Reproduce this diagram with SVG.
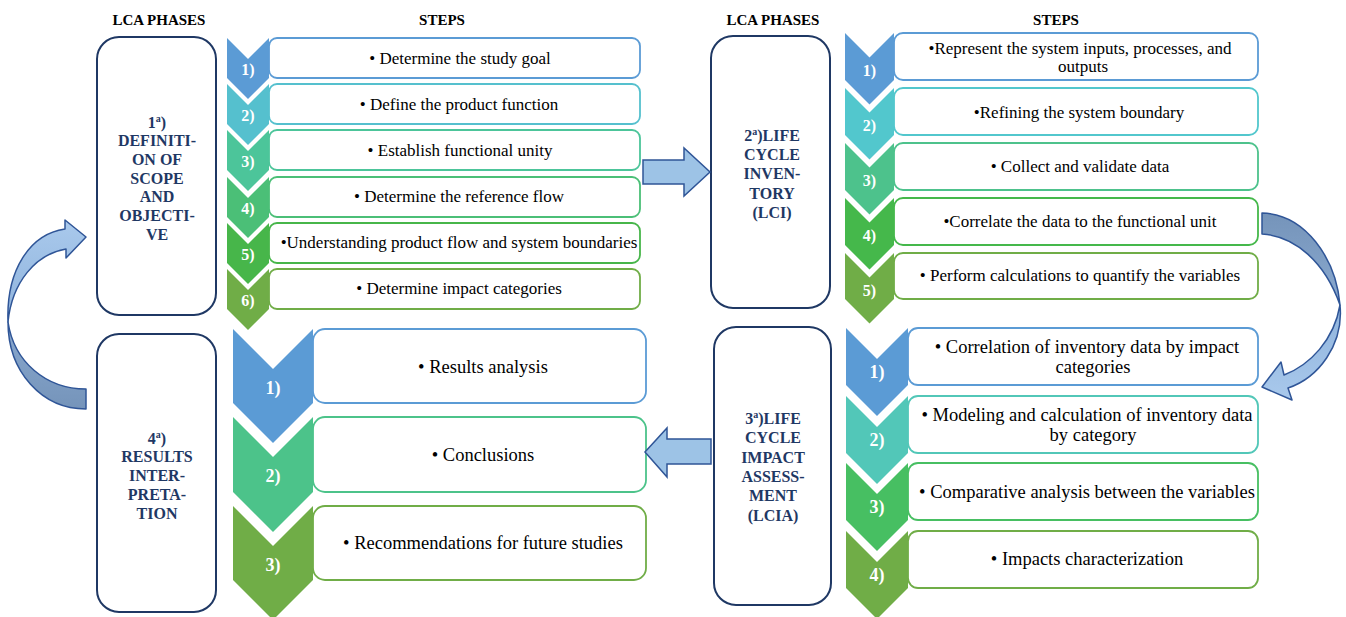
<svg xmlns="http://www.w3.org/2000/svg" width="1346" height="617" viewBox="0 0 1346 617">
  <defs>
    <style>
      .hdr { font-family: "Liberation Serif", "Times New Roman", serif; font-weight: bold; font-size: 15px; fill: #000; text-anchor: middle; }
      .phase rect { fill: #fff; stroke: #1f3864; stroke-width: 2; }
      .phase text { font-family: "Liberation Serif", "Times New Roman", serif; font-weight: bold; font-size: 16px; fill: #1f3864; text-anchor: middle; }
      .sup { font-size: 10px; }
      .step rect { fill: #fff; stroke-width: 1.8; }
      .num { font-family: "Liberation Serif", "Times New Roman", serif; font-weight: bold; font-size: 16px; fill: #fff; text-anchor: middle; }
      .num.big { font-size: 18px; }
      .t15 { font-family: "Liberation Serif", "Times New Roman", serif; font-size: 17px; fill: #000; text-anchor: middle; }
      .t17 { font-family: "Liberation Serif", "Times New Roman", serif; font-size: 18.5px; fill: #000; text-anchor: middle; }
      .block { fill: #9dc3e6; stroke: #2f5597; stroke-width: 1.5; stroke-linejoin: miter; }
      .curve { stroke: #2f5597; stroke-width: 1.5; stroke-linejoin: round; }
    </style>
    <linearGradient id="lightBand" x1="0" y1="0" x2="0" y2="1">
      <stop offset="0" stop-color="#a9c9ec"/>
      <stop offset="1" stop-color="#8fb3dc"/>
    </linearGradient>
    <linearGradient id="darkBandL" x1="0" y1="0" x2="0" y2="1">
      <stop offset="0" stop-color="#8aa9cf"/>
      <stop offset="1" stop-color="#7594ba"/>
    </linearGradient>
    <linearGradient id="darkBandR" x1="0" y1="0" x2="0" y2="1">
      <stop offset="0" stop-color="#7594ba"/>
      <stop offset="1" stop-color="#8aa9cf"/>
    </linearGradient>
    <linearGradient id="lightBandR" x1="0" y1="0" x2="0" y2="1">
      <stop offset="0" stop-color="#8fb3dc"/>
      <stop offset="1" stop-color="#a9c9ec"/>
    </linearGradient>
  </defs>

  <rect width="1346" height="617" fill="#fff"/>

  <!-- column headers -->
  <g id="headers">
    <text class="hdr" x="159" y="25">LCA PHASES</text>
    <text class="hdr" x="442" y="25">STEPS</text>
    <text class="hdr" x="773" y="25">LCA PHASES</text>
    <text class="hdr" x="1056" y="25">STEPS</text>
  </g>

  <!-- phase boxes -->
  <g id="phase1" class="phase">
    <rect x="97" y="37" width="119" height="278" rx="22"/>
    <text x="157" y="128">1<tspan class="sup" dy="-6">a</tspan><tspan dy="6">)</tspan></text>
    <text x="157" y="146">DEFINITI-</text>
    <text x="157" y="165">ON OF</text>
    <text x="157" y="184">SCOPE</text>
    <text x="157" y="202">AND</text>
    <text x="157" y="221">OBJECTI-</text>
    <text x="157" y="240">VE</text>
  </g>
  <g id="phase2" class="phase">
    <rect x="711" y="36" width="119" height="272" rx="22"/>
    <text x="772" y="141">2<tspan class="sup" dy="-6">a</tspan><tspan dy="6">)LIFE</tspan></text>
    <text x="772" y="160">CYCLE</text>
    <text x="772" y="179">INVEN-</text>
    <text x="772" y="199">TORY</text>
    <text x="772" y="218">(LCI)</text>
  </g>
  <g id="phase3" class="phase">
    <rect x="714" y="327" width="117" height="278" rx="22"/>
    <text x="773" y="424">3<tspan class="sup" dy="-6">a</tspan><tspan dy="6">)LIFE</tspan></text>
    <text x="773" y="443">CYCLE</text>
    <text x="773" y="463">IMPACT</text>
    <text x="773" y="482">ASSESS-</text>
    <text x="773" y="501">MENT</text>
    <text x="773" y="521">(LCIA)</text>
  </g>
  <g id="phase4" class="phase">
    <rect x="97" y="334" width="119" height="278" rx="22"/>
    <text x="157" y="444">4<tspan class="sup" dy="-6">a</tspan><tspan dy="6">)</tspan></text>
    <text x="157" y="462">RESULTS</text>
    <text x="157" y="481">INTER-</text>
    <text x="157" y="500">PRETA-</text>
    <text x="157" y="519">TION</text>
  </g>

  <!-- phase 1 steps: chevron width 42, pitch 46 -->
  <g id="steps1">
    <g class="step" id="s1-1">
      <rect x="269" y="38" width="371" height="40" rx="8" stroke="#5b9bd5"/>
      <path d="M227,38 L248,59 L269,38 L269,78 L248,99 L227,78 Z" fill="#5b9bd5"/>
      <text class="num" x="248" y="75">1)</text>
      <text class="t15" x="460" y="64">• Determine the study goal</text>
    </g>
    <g class="step" id="s1-2">
      <rect x="269" y="84" width="371" height="40" rx="8" stroke="#55c0ce"/>
      <path d="M227,84 L248,105 L269,84 L269,124 L248,145 L227,124 Z" fill="#55c0ce"/>
      <text class="num" x="248" y="121">2)</text>
      <text class="t15" x="459" y="110">• Define the product function</text>
    </g>
    <g class="step" id="s1-3">
      <rect x="269" y="130" width="371" height="40" rx="8" stroke="#4cc59a"/>
      <path d="M227,130 L248,151 L269,130 L269,170 L248,191 L227,170 Z" fill="#4cc59a"/>
      <text class="num" x="248" y="167">3)</text>
      <text class="t15" x="460" y="156">• Establish functional unity</text>
    </g>
    <g class="step" id="s1-4">
      <rect x="269" y="177" width="371" height="40" rx="8" stroke="#4bbf77"/>
      <path d="M227,177 L248,198 L269,177 L269,217 L248,238 L227,217 Z" fill="#4bbf77"/>
      <text class="num" x="248" y="214">4)</text>
      <text class="t15" x="459" y="202">• Determine the reference flow</text>
    </g>
    <g class="step" id="s1-5">
      <rect x="269" y="223" width="371" height="40" rx="8" stroke="#47b64a"/>
      <path d="M227,223 L248,244 L269,223 L269,263 L248,284 L227,263 Z" fill="#47b64a"/>
      <text class="num" x="248" y="260">5)</text>
      <text class="t15" x="459" y="248">•Understanding product flow and system boundaries</text>
    </g>
    <g class="step" id="s1-6">
      <rect x="269" y="269" width="371" height="40" rx="8" stroke="#70ad47"/>
      <path d="M227,269 L248,290 L269,269 L269,309 L248,330 L227,309 Z" fill="#70ad47"/>
      <text class="num" x="248" y="306">6)</text>
      <text class="t15" x="459" y="294">• Determine impact categories</text>
    </g>
  </g>

  <!-- phase 2 steps: chevron width 49, pitch 55 -->
  <g id="steps2">
    <g class="step" id="s2-1">
      <rect x="894" y="33" width="364" height="47" rx="9" stroke="#5b9bd5"/>
      <path d="M845,33 L869.5,57.5 L894,33 L894,80 L869.5,104.5 L845,80 Z" fill="#5b9bd5"/>
      <text class="num" x="869.5" y="76">1)</text>
      <text class="t15" x="1080" y="54">•Represent the system inputs, processes, and</text>
      <text class="t15" x="1083" y="72">outputs</text>
    </g>
    <g class="step" id="s2-2">
      <rect x="894" y="88" width="364" height="47" rx="9" stroke="#52c7cd"/>
      <path d="M845,88 L869.5,112.5 L894,88 L894,135 L869.5,159.5 L845,135 Z" fill="#52c7cd"/>
      <text class="num" x="869.5" y="131">2)</text>
      <text class="t15" x="1079" y="118">•Refining the system boundary</text>
    </g>
    <g class="step" id="s2-3">
      <rect x="894" y="143" width="364" height="47" rx="9" stroke="#4dc28c"/>
      <path d="M845,143 L869.5,167.5 L894,143 L894,190 L869.5,214.5 L845,190 Z" fill="#4dc28c"/>
      <text class="num" x="869.5" y="186">3)</text>
      <text class="t15" x="1080" y="172">• Collect and validate data</text>
    </g>
    <g class="step" id="s2-4">
      <rect x="894" y="198" width="364" height="47" rx="9" stroke="#45b84b"/>
      <path d="M845,198 L869.5,222.5 L894,198 L894,245 L869.5,269.5 L845,245 Z" fill="#45b84b"/>
      <text class="num" x="869.5" y="241">4)</text>
      <text class="t15" x="1080" y="227">•Correlate the data to the functional unit</text>
    </g>
    <g class="step" id="s2-5">
      <rect x="894" y="253" width="364" height="46" rx="9" stroke="#70ad47"/>
      <path d="M845,253 L869.5,277.5 L894,253 L894,299 L869.5,323.5 L845,299 Z" fill="#70ad47"/>
      <text class="num" x="869.5" y="296">5)</text>
      <text class="t15" x="1080" y="281">• Perform calculations to quantify the variables</text>
    </g>
  </g>

  <!-- phase 3 steps: chevron width 62, pitch 67.7 -->
  <g id="steps3">
    <g class="step" id="s3-1">
      <rect x="908" y="328" width="350" height="57" rx="10" stroke="#5b9bd5"/>
      <path d="M846,328 L877,359 L908,328 L908,385 L877,416 L846,385 Z" fill="#5b9bd5"/>
      <text class="num big" x="877" y="378">1)</text>
      <text class="t17" x="1087" y="353">• Correlation of inventory data by impact</text>
      <text class="t17" x="1093" y="373">categories</text>
    </g>
    <g class="step" id="s3-2">
      <rect x="908" y="396" width="350" height="57" rx="10" stroke="#52c7b8"/>
      <path d="M846,396 L877,427 L908,396 L908,453 L877,484 L846,453 Z" fill="#52c7b8"/>
      <text class="num big" x="877" y="446">2)</text>
      <text class="t17" x="1087" y="421">• Modeling and calculation of inventory data</text>
      <text class="t17" x="1093" y="441">by category</text>
    </g>
    <g class="step" id="s3-3">
      <rect x="908" y="463" width="350" height="57" rx="10" stroke="#47bf62"/>
      <path d="M846,463 L877,494 L908,463 L908,520 L877,551 L846,520 Z" fill="#47bf62"/>
      <text class="num big" x="877" y="513">3)</text>
      <text class="t17" x="1087" y="498">• Comparative analysis between the variables</text>
    </g>
    <g class="step" id="s3-4">
      <rect x="908" y="531" width="350" height="57" rx="10" stroke="#70ad47"/>
      <path d="M846,531 L877,562 L908,531 L908,588 L877,619 L846,588 Z" fill="#70ad47"/>
      <text class="num big" x="877" y="581">4)</text>
      <text class="t17" x="1087" y="565">• Impacts characterization</text>
    </g>
  </g>

  <!-- phase 4 steps: chevron width 80, pitch 88.5 -->
  <g id="steps4">
    <g class="step" id="s4-1">
      <rect x="313" y="329" width="333" height="74" rx="12" stroke="#5b9bd5"/>
      <path d="M233,329 L273,369 L313,329 L313,403 L273,443 L233,403 Z" fill="#5b9bd5"/>
      <text class="num big" x="273" y="394">1)</text>
      <text class="t17" x="483" y="373">• Results analysis</text>
    </g>
    <g class="step" id="s4-2">
      <rect x="313" y="417" width="333" height="75" rx="12" stroke="#4cc38a"/>
      <path d="M233,417 L273,457 L313,417 L313,492 L273,532 L233,492 Z" fill="#4cc38a"/>
      <text class="num big" x="273" y="482">2)</text>
      <text class="t17" x="483" y="461">• Conclusions</text>
    </g>
    <g class="step" id="s4-3">
      <rect x="313" y="506" width="333" height="74" rx="12" stroke="#70ad47"/>
      <path d="M233,506 L273,546 L313,506 L313,580 L273,620 L233,580 Z" fill="#70ad47"/>
      <text class="num big" x="273" y="571">3)</text>
      <text class="t17" x="483" y="549">• Recommendations for future studies</text>
    </g>
  </g>

  <!-- connectors between phases -->
  <g id="connectors">
    <!-- phase 1 to phase 2 -->
    <path class="block" d="M643,160 L684,160 L684,148 L710,172 L684,196 L684,184 L643,184 Z"/>
    <!-- phase 3 to phase 4 -->
    <path class="block" d="M711,439 L667,439 L667,428 L645,452 L667,477 L667,464 L711,464 Z"/>
    <!-- phase 2 to phase 3: curved arrow on the right -->
    <path class="curve" fill="url(#darkBandR)" d="M1262,213 L1262,234 C1295,236 1325,262 1340,305 C1336,258 1305,214 1262,213 Z"/>
    <path class="curve" fill="url(#lightBandR)" d="M1340,305 C1344,345 1318,378 1288,388 L1292,400 L1262,387 L1281,362 L1284,375 C1310,365 1334,340 1340,305 Z"/>
    <!-- phase 4 to phase 1: curved arrow on the left -->
    <path class="curve" fill="url(#darkBandL)" d="M86,389 L86,409 C42,409 8,372 8,322 C14,362 46,389 86,389 Z"/>
    <path class="curve" fill="url(#lightBand)" d="M8,322 C6,270 30,234 65,229 L65,220 L86,237 L66,258 L66,249 C36,254 12,282 8,322 Z"/>
  </g>
</svg>
